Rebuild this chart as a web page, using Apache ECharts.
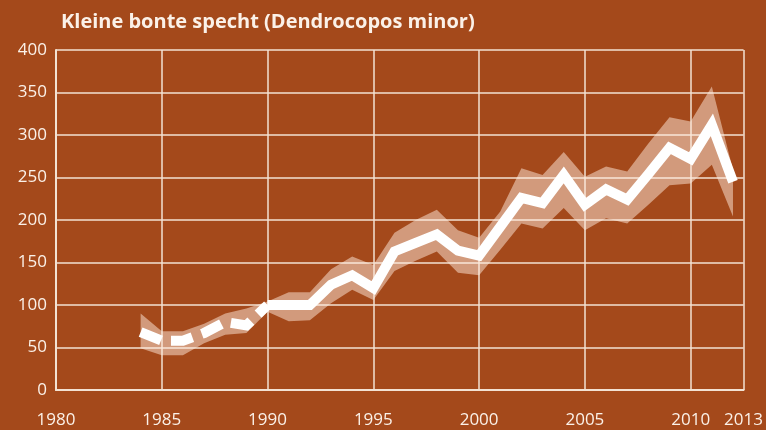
<!DOCTYPE html>
<html>
<head>
<meta charset="utf-8">
<title>Kleine bonte specht</title>
<script src="https://cdn.jsdelivr.net/npm/echarts@6/dist/echarts.min.js"></script>
<style>
  html, body { margin: 0; padding: 0; background: #a4491b; }
  #chart { width: 766px; height: 430px; }
</style>
</head>
<body>
<div id="chart"></div>
<script>
var years = [1984, 1985, 1986, 1987, 1988, 1989, 1990, 1991, 1992, 1993, 1994, 1995, 1996, 1997, 1998,
             1999, 2000, 2001, 2002, 2003, 2004, 2005, 2006, 2007, 2008, 2009, 2010, 2011, 2012];
var index = [68, 58, 58, 67, 80, 76, 100, 100, 100, 124, 135, 120, 163, 173, 183,
             164, 158, 192, 226, 220, 253, 218, 236, 224, 254, 285, 272, 312, 245];
var lower = [49, 41, 41, 55, 65, 67, 92, 81, 82, 102, 118, 106, 140, 152, 163,
             138, 135, 165, 196, 190, 214, 188, 202, 196, 218, 241, 243, 265, 204];
var upper = [90, 69, 69, 78, 90, 96, 104, 115, 115, 142, 157, 147, 185, 200, 212,
             188, 179, 210, 261, 253, 280, 251, 263, 257, 290, 321, 316, 357, 259];
var dashedUntil = 1990;   // estimated part of the series is dashed

var xTicks = [1980, 1985, 1990, 1995, 2000, 2005, 2010, 2012.5];
var xLabels = ['1980', '1985', '1990', '1995', '2000', '2005', '2010', '2013'];
var yTicks = [0, 50, 100, 150, 200, 250, 300, 350, 400];

var bg = '#a4491b';
var cream = '#f3e2d3';
var txt = '#fbf1e8';

function pairs(vals) {
    return years.map(function (y, i) { return [y, vals[i]]; });
}
var dashedData = pairs(index).filter(function (p) { return p[0] <= dashedUntil; });
var solidData = pairs(index).filter(function (p) { return p[0] >= dashedUntil; });
var bandData = years.map(function (y, i) { return [y, lower[i], upper[i]]; });

// confidence band as one polygon, upper edge forward then lower edge back
function renderBand(params, api) {
    if (params.dataIndex !== 0) return;
    var top = [], bottom = [];
    for (var i = 0; i < years.length; i++) {
        top.push(api.coord([years[i], upper[i]]));
        bottom.unshift(api.coord([years[i], lower[i]]));
    }
    return {
        type: 'polygon',
        shape: { points: top.concat(bottom) },
        style: { fill: 'rgba(255,236,222,0.5)' }
    };
}

var chart = echarts.init(document.getElementById('chart'));
chart.setOption({
    backgroundColor: bg,
    animation: false,
    title: {
        text: 'Kleine bonte specht (Dendrocopos minor)',
        left: 56,
        top: 7,
        textStyle: { color: txt, fontSize: 20, fontWeight: 'bold', fontFamily: 'Open Sans' }
    },
    grid: { left: 56, right: 20, top: 50, bottom: 40 },
    xAxis: {
        type: 'value',
        min: xTicks[0],
        max: xTicks[xTicks.length - 1],
        axisLine: { show: true, onZero: false, lineStyle: { color: cream, width: 2 } },
        axisTick: { show: false, customValues: xTicks },
        splitLine: { show: true, lineStyle: { color: cream, width: 1.5 } },
        axisLabel: {
            customValues: xTicks,
            margin: 22,
            color: txt,
            fontSize: 17,
            fontFamily: 'Open Sans',
            formatter: function (v) {
                var i = xTicks.indexOf(v);
                return i >= 0 ? xLabels[i] : '';
            }
        }
    },
    yAxis: {
        type: 'value',
        min: yTicks[0],
        max: yTicks[yTicks.length - 1],
        interval: 50,
        axisLine: { show: true, lineStyle: { color: cream, width: 2 } },
        axisTick: { show: false },
        splitLine: { show: true, lineStyle: { color: cream, width: 1.5 } },
        axisLabel: { color: txt, fontSize: 17, fontFamily: 'Open Sans', margin: 9 }
    },
    series: [
        {
            type: 'custom', data: bandData, renderItem: renderBand, z: 1,
            encode: { x: 0, y: [1, 2] }
        },
        {
            type: 'line', data: dashedData, symbol: 'none', z: 3,
            lineStyle: { color: '#ffffff', width: 10, type: [22, 10], join: 'miter', cap: 'butt' }
        },
        {
            type: 'line', data: solidData, symbol: 'none', z: 3,
            lineStyle: { color: '#ffffff', width: 10, join: 'miter', cap: 'butt' }
        }
    ]
});
</script>
</body>
</html>
